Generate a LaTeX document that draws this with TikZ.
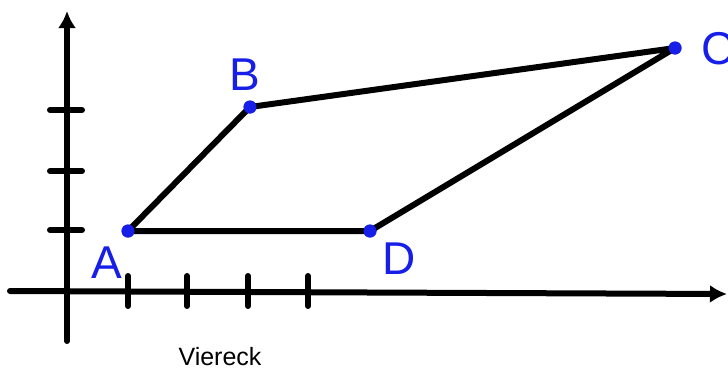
\documentclass[tikz,border=0pt]{standalone}
\usepackage{fontspec}
\setmainfont{Liberation Sans}
\usetikzlibrary{arrows.meta}
\definecolor{ptblue}{RGB}{22,30,232}
\tikzset{
  axis/.style={line width=6pt, line cap=round, -{Latex[length=17pt,width=18pt]}},
  tick/.style={line width=6pt, line cap=round},
  edge/.style={line width=6pt, line cap=round, line join=round},
  pt/.style={circle, fill=ptblue, inner sep=0pt, minimum size=13pt},
  ptlabel/.style={text=ptblue, font=\fontsize{46}{46}\selectfont, inner sep=0pt},
  caption/.style={text=black, font=\fontsize{25}{25}\selectfont, inner sep=0pt}
}
\begin{document}
\begin{tikzpicture}[x=1pt,y=-1pt]
\clip (0,0) rectangle (728,370);
\fill[white] (0,0) rectangle (728,370);
% axes
\coordinate (xs) at (10,291);
\coordinate (xe) at (727,294);
\coordinate (ys) at (67,341);
\coordinate (ye) at (67,11);
\draw[axis] (xs) -- (xe);
\draw[axis] (ys) -- (ye);
% ticks
\foreach \x in {128,187,248,308} \draw[tick] (\x,276) -- (\x,306);
\foreach \y in {110,171,230} \draw[tick] (50,\y) -- (82,\y);
% points
\node[pt] (A) at (128,231) {};
\node[pt] (B) at (250,107) {};
\node[pt] (C) at (675,48) {};
\node[pt] (D) at (370,231) {};
\draw[edge] (A.center) -- (B.center) -- (C.center) -- (D.center) -- cycle;
\node[pt] at (A) {};
\node[pt] at (B) {};
\node[pt] at (C) {};
\node[pt] at (D) {};
% labels
\node[ptlabel] (lA) at (107,263) {A};
\node[ptlabel] (lB) at (245,75) {B};
\node[ptlabel] (lC) at (718,49) {C};
\node[ptlabel] (lD) at (399,259) {D};
\node[caption] (cap) at (220,357) {Viereck};
\end{tikzpicture}
\end{document}
